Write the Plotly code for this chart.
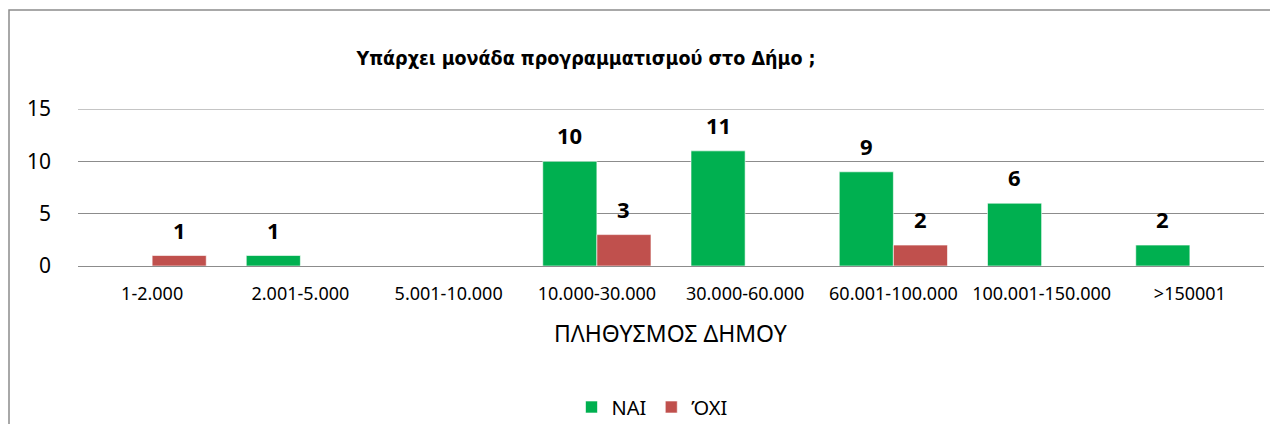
import plotly.graph_objects as go

categories = ["1-2.000", "2.001-5.000", "5.001-10.000", "10.000-30.000",
              "30.000-60.000", "60.001-100.000", "100.001-150.000", ">150001"]
nai = [0, 1, 0, 10, 11, 9, 6, 2]
oxi = [1, 0, 0, 3, 0, 2, 0, 0]
series = [("ΝΑΙ", nai, "#00B050", -27), ("ΌΧΙ", oxi, "#C0504D", 27)]

title_text = "Υπάρχει μονάδα προγραμματισμού στο Δήμο ;"
x_title = "ΠΛΗΘΥΣΜΟΣ ΔΗΜΟΥ"
y_ticks = [0, 5, 10, 15]

BASE_FONT = "Noto Sans, Open Sans, sans-serif"
TITLE_FONT = "Liberation Sans Narrow, DejaVu Sans Condensed, Liberation Sans, sans-serif"
GRID = "#8c8c8c"

# page has an 8px body margin: figure sized/positioned to compensate (page coords below)
OFF = 8
W, H = 1262, 416
PL, PT, PW, PH = 78, 109, 1186, 157   # plot area in page pixels
L, T = PL - OFF, PT - OFF

fig = go.Figure()
annotations = []
for name, vals, color, xs in series:
    fig.add_trace(go.Bar(
        x=categories, y=vals, name=name,
        marker=dict(color=color, line=dict(color="rgba(255,255,255,0.6)", width=1)),
        hoverinfo="x+y+name",
    ))
    for c, v in zip(categories, vals):
        if v:
            annotations.append(dict(
                x=c, y=v, xref="x", yref="y", text=f"<b>{v}</b>", showarrow=False,
                xshift=xs, yshift=26, yanchor="middle",
                font=dict(family=BASE_FONT, size=22, color="#000000"),
            ))

annotations.append(dict(
    x=(671 - PL) / PW, y=(PT + PH - 333) / PH, xref="paper", yref="paper", text=x_title,
    showarrow=False, xanchor="center", yanchor="middle",
    font=dict(family=BASE_FONT, size=23, color="#000000"),
))

# chart-area frame (left and top edges visible in the reference)
fx0 = (9 - PL) / PW
fx1 = (1320 - PL) / PW
fy0 = (PT + PH - 480) / PH
fy1 = 1 + (PT - 10) / PH
shapes = [
    dict(type="path", xref="paper", yref="paper",
         path=f"M {fx0},{fy0} L {fx0},{fy1} L {fx1},{fy1}",
         line=dict(color=GRID, width=1.5), layer="below"),
    # top gridline (at axis max) which plotly omits at the plot edge
    dict(type="line", xref="paper", yref="y", x0=0, x1=1, y0=max(y_ticks), y1=max(y_ticks),
         line=dict(color=GRID, width=1), layer="below"),
]

fig.update_layout(
    width=W, height=H,
    margin=dict(l=L, r=W - L - PW, t=T, b=H - T - PH, pad=0, autoexpand=False),
    paper_bgcolor="white", plot_bgcolor="white",
    barmode="group", bargap=0.27, bargroupgap=0,
    title=dict(text=f"<b>{title_text}</b>", x=(586 - PL) / PW, xref="paper", xanchor="center",
               y=1 - (58 - OFF) / H, yanchor="middle",
               font=dict(family=TITLE_FONT, size=19.5, color="#000000")),
    font=dict(family=BASE_FONT, color="#000000"),
    xaxis=dict(type="category", showgrid=False, showline=True, linecolor=GRID, linewidth=1,
               ticks="", tickfont=dict(family=BASE_FONT, size=18, color="#000000"),
               ticklabelstandoff=11, zeroline=False),
    yaxis=dict(range=[0, 15], tickvals=y_ticks, showgrid=True, gridcolor=GRID, gridwidth=1,
               zeroline=False, showline=False, ticks="",
               tickfont=dict(family=BASE_FONT, size=21, color="#000000"),
               ticklabelstandoff=26),
    legend=dict(orientation="h", x=(652 - PL) / PW, xanchor="center", y=(PT + PH - 407) / PH,
                yanchor="middle",
                font=dict(family=BASE_FONT, size=20, color="#000000"),
                traceorder="normal"),
    annotations=annotations,
    shapes=shapes,
    showlegend=True,
)

fig.write_html("out.html")
